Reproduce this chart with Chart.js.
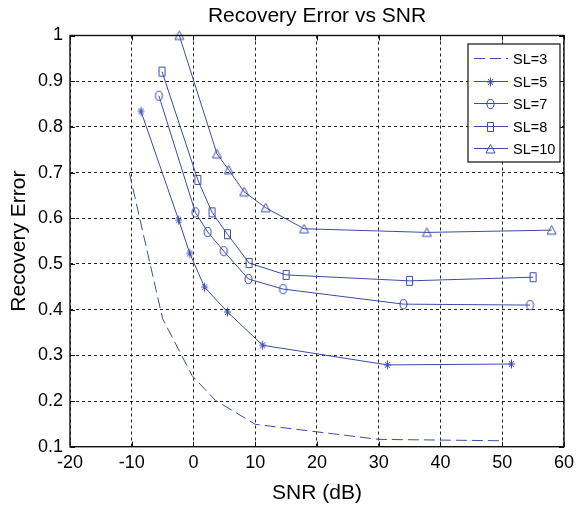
<!DOCTYPE html>
<html>
<head>
<meta charset="utf-8">
<script src="https://cdn.jsdelivr.net/npm/chart.js@4.4.0/dist/chart.umd.min.js"></script>
<style>
  body { margin: 0; background: #fff; }
  #wrap { width: 580px; height: 508px; }
</style>
</head>
<body>
<div id="wrap"><canvas id="errChart" width="580" height="508"></canvas></div>
<script>
// values (SNR in dB, recovery error)
var seriesNames = ["SL=3", "SL=5", "SL=7", "SL=8", "SL=10"];

var snrSL3 = [-10.4, -5.0, -0.2, 3.5, 10.0, 30.0, 50.0];
var errSL3 = [0.700, 0.380, 0.255, 0.202, 0.149, 0.116, 0.113];

var snrSL5 = [-8.5, -2.4, -0.6, 1.8, 5.5, 11.2, 31.4, 51.5];
var errSL5 = [0.834, 0.596, 0.523, 0.449, 0.395, 0.322, 0.279, 0.281];

var snrSL7 = [-5.6, 0.3, 2.3, 4.9, 8.9, 14.5, 34.0, 54.5];
var errSL7 = [0.868, 0.613, 0.570, 0.528, 0.467, 0.445, 0.412, 0.410];

var snrSL8 = [-5.1, 0.7, 3.0, 5.5, 9.0, 15.0, 35.0, 55.0];
var errSL8 = [0.921, 0.684, 0.613, 0.565, 0.502, 0.476, 0.463, 0.471];

var snrSL10 = [-2.3, 3.8, 5.7, 8.2, 11.7, 17.9, 37.8, 58.0];
var errSL10 = [1.000, 0.741, 0.706, 0.658, 0.623, 0.577, 0.569, 0.574];

var xMin = -20, xMax = 60, xStep = 10;
var yMin = 0.1, yMax = 1.0, yStep = 0.1;

var blue = "#3a4cad";

function toPoints(xs, ys) {
  return xs.map(function(x, i) { return { x: x, y: ys[i] }; });
}

// hollow matlab-like markers
function makeMarker(kind) {
  var c = document.createElement("canvas");
  c.width = 11; c.height = 12;
  var g = c.getContext("2d");
  g.strokeStyle = blue;
  g.lineWidth = 1;
  g.beginPath();
  if (kind === "circle") {
    g.ellipse(5.5, 6, 3.5, 4.6, 0, 0, 2 * Math.PI);
  } else if (kind === "square") {
    g.rect(2.5, 1.5, 6, 9);
  } else if (kind === "triangle") {
    g.moveTo(5.5, 1.5); g.lineTo(10, 10); g.lineTo(1, 10); g.closePath();
  } else if (kind === "star") {
    g.moveTo(5.5, 1.5); g.lineTo(5.5, 10.5);
    g.moveTo(2, 6); g.lineTo(9, 6);
    g.moveTo(3, 3); g.lineTo(8, 9);
    g.moveTo(8, 3); g.lineTo(3, 9);
  }
  g.stroke();
  return c;
}

function lineSet(label, xs, ys, marker, dash) {
  return {
    label: label,
    data: toPoints(xs, ys),
    borderColor: blue,
    backgroundColor: blue,
    borderWidth: 1,
    borderDash: dash || [],
    pointStyle: marker ? makeMarker(marker) : false,
    pointRadius: marker ? 5 : 0,
    pointHoverRadius: marker ? 5 : 0,
    tension: 0,
    fill: false,
    clip: false
  };
}

// box round the plot with inward tick marks
var axesFrame = {
  id: "axesFrame",
  afterDatasetsDraw: function(chart) {
    var ctx = chart.ctx, a = chart.chartArea;
    var sx = chart.scales.x, sy = chart.scales.y;
    ctx.save();
    ctx.strokeStyle = "#111";
    ctx.lineWidth = 1.4;
    ctx.setLineDash([]);
    ctx.strokeRect(a.left, a.top, a.right - a.left, a.bottom - a.top);
    ctx.lineWidth = 1;
    ctx.beginPath();
    sx.ticks.forEach(function(t) {
      var px = Math.round(sx.getPixelForValue(t.value)) + 0.5;
      ctx.moveTo(px, a.bottom); ctx.lineTo(px, a.bottom - 5);
      ctx.moveTo(px, a.top); ctx.lineTo(px, a.top + 5);
    });
    sy.ticks.forEach(function(t) {
      var py = Math.round(sy.getPixelForValue(t.value)) + 0.5;
      ctx.moveTo(a.left, py); ctx.lineTo(a.left + 5, py);
      ctx.moveTo(a.right, py); ctx.lineTo(a.right - 5, py);
    });
    ctx.stroke();
    ctx.restore();
  }
};

// legend box in the upper right corner of the axes
var legendBox = {
  id: "legendBox",
  afterDraw: function(chart) {
    var ctx = chart.ctx, a = chart.chartArea;
    var w = 92, h = 118;
    var x0 = a.right - 4 - w, y0 = a.top + 8.5;
    ctx.save();
    ctx.fillStyle = "#fff";
    ctx.fillRect(x0, y0, w, h);
    ctx.strokeStyle = "#111";
    ctx.lineWidth = 1.2;
    ctx.strokeRect(x0, y0, w, h);
    ctx.font = '14.5px "Liberation Sans", Arial, sans-serif';
    ctx.textBaseline = "middle";
    chart.data.datasets.forEach(function(ds, i) {
      var y = Math.round(y0 + 14.3 + i * 22.5) + 0.5;
      ctx.strokeStyle = ds.borderColor;
      ctx.lineWidth = 1;
      ctx.setLineDash(ds.borderDash);
      ctx.beginPath();
      ctx.moveTo(x0 + 6, y); ctx.lineTo(x0 + 40, y);
      ctx.stroke();
      ctx.setLineDash([]);
      if (ds.pointStyle) {
        var m = ds.pointStyle;
        ctx.drawImage(m, Math.round(x0 + 23 - m.width / 2), Math.round(y - m.height / 2));
      }
      ctx.fillStyle = "#000";
      ctx.fillText(ds.label, x0 + 45, y + 1);
    });
    ctx.restore();
  }
};

Chart.defaults.font.family = '"Liberation Sans", Arial, sans-serif';
Chart.defaults.color = "#000";

var ctx = document.getElementById("errChart").getContext("2d");
var errChart = new Chart(ctx, {
  type: "line",
  data: {
    datasets: [
      lineSet(seriesNames[0], snrSL3, errSL3, null, [11, 5]),
      lineSet(seriesNames[1], snrSL5, errSL5, "star"),
      lineSet(seriesNames[2], snrSL7, errSL7, "circle"),
      lineSet(seriesNames[3], snrSL8, errSL8, "square"),
      lineSet(seriesNames[4], snrSL10, errSL10, "triangle")
    ]
  },
  options: {
    responsive: false,
    animation: false,
    layout: { padding: { left: 0, right: 12.5, top: 0, bottom: 0 } },
    plugins: {
      legend: { display: false },
      tooltip: { enabled: false },
      title: {
        display: true,
        fullSize: false,
        text: "Recovery Error vs SNR",
        font: { size: 21, weight: "normal" },
        color: "#000",
        padding: { top: 4, bottom: 6.3 }
      }
    },
    scales: {
      x: {
        type: "linear",
        min: xMin, max: xMax,
        ticks: { stepSize: xStep, font: { size: 18 }, padding: 6, color: "#000" },
        grid: { color: "#222", lineWidth: 1, drawTicks: false },
        border: { display: false, dash: [3, 3] },
        title: { display: true, text: "SNR (dB)", font: { size: 21 }, color: "#000", padding: { top: 0, bottom: 2.4 } },
        afterFit: function(scale) { scale.height = 61.3; }
      },
      y: {
        type: "linear",
        min: yMin, max: yMax,
        ticks: {
          stepSize: yStep, font: { size: 18 }, padding: 7, color: "#000",
          callback: function(v) { return String(Number(v.toFixed(1))); }
        },
        grid: { color: "#222", lineWidth: 1, drawTicks: false },
        border: { display: false, dash: [3, 3] },
        title: { display: true, text: "Recovery Error", font: { size: 21 }, color: "#000", padding: { top: 6.4, bottom: 0 } },
        afterFit: function(scale) { scale.width = 70; }
      }
    }
  },
  plugins: [axesFrame, legendBox]
});
</script>
</body>
</html>
